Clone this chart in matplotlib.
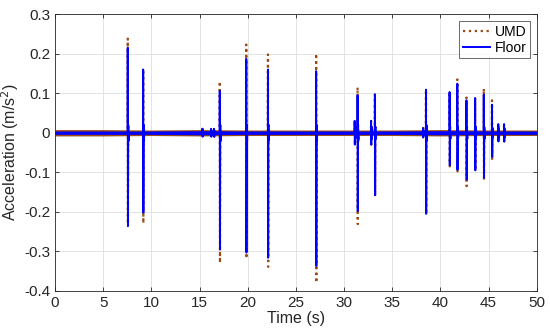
import matplotlib.pyplot as plt
import numpy as np

plt.rcParams["font.family"] = ["Liberation Sans", "DejaVu Sans"]
plt.rcParams["axes.unicode_minus"] = False

# spike events: time (s), positive peak, negative peak
event_t = [7.55, 9.15, 17.1, 19.85, 22.1, 27.1, 31.4, 33.2, 38.5,
           40.95, 41.75, 42.7, 43.6, 44.5, 45.35]
floor_peak = [0.215, 0.160, 0.106, 0.187, 0.160, 0.156, 0.095, 0.097, 0.109,
              0.103, 0.124, 0.082, 0.088, 0.097, 0.071]
floor_trough = [-0.236, -0.202, -0.295, -0.303, -0.316, -0.337, -0.198, -0.158, -0.205,
                -0.082, -0.094, -0.118, -0.095, -0.114, -0.061]
umd_peak = [0.238, 0.160, 0.130, 0.223, 0.198, 0.200, 0.115, 0.097, 0.109,
            0.103, 0.135, 0.089, 0.088, 0.112, 0.082]
umd_trough = [-0.230, -0.229, -0.329, -0.318, -0.339, -0.379, -0.231, -0.160, -0.205,
              -0.085, -0.100, -0.135, -0.095, -0.120, -0.070]
ring = [0.02, 0.02, 0.02, 0.02, 0.02, 0.02, 0.02, 0.015, 0.02,
        0.015, 0.015, 0.015, 0.015, 0.015, 0.012]

# small bumps on the baseline
bump_t = [15.3, 16.2, 16.5, 31.1, 32.8, 38.2, 46.0, 46.6]
bump_amp = [0.010, 0.010, 0.010, 0.030, 0.030, 0.012, 0.022, 0.022]

# baseline noise envelope (half-width) every 5 s
band_t = [0, 5, 10, 15, 20, 25, 30, 35, 40, 45, 50]
umd_band = [0.008, 0.008, 0.007, 0.008, 0.007, 0.007, 0.007, 0.007, 0.008, 0.007, 0.007]
floor_band = [0.004, 0.004, 0.004, 0.005, 0.004, 0.004, 0.004, 0.004, 0.005, 0.004, 0.004]


def build_trace(peaks, troughs):
    ts, vs = [0.0], [0.0]
    events = sorted(
        [(t, p, q, r) for t, p, q, r in zip(event_t, peaks, troughs, ring)]
        + [(t, a, -a, a / 2) for t, a in zip(bump_t, bump_amp)]
    )
    for t, p, q, r in events:
        ts += [t - 0.01, t, t + 0.02, t + 0.05, t + 0.08, t + 0.11]
        vs += [0.0, p, q, r, -r, 0.0]
    ts.append(50.0)
    vs.append(0.0)
    return ts, vs


umd_t, umd_v = build_trace(umd_peak, umd_trough)
floor_t, floor_v = build_trace(floor_peak, floor_trough)

fig, ax = plt.subplots(figsize=(5.5, 3.36), dpi=100)
fig.subplots_adjust(left=0.1, right=0.976, top=0.958, bottom=0.134)

bt = np.array(band_t)
ax.fill_between(bt, -np.array(umd_band), np.array(umd_band), color="#9a4a14", lw=0, zorder=2)
ax.plot(umd_t, umd_v, ls=":", color="#9a4a14", lw=1.6, label="UMD", zorder=3)
ax.fill_between(bt, -np.array(floor_band), np.array(floor_band), color="#0000ff", lw=0, zorder=4)
ax.plot(floor_t, floor_v, color="#0000ff", lw=1.4, label="Floor", zorder=5)

ax.set_xlim(0, 50)
ax.set_ylim(-0.4, 0.3)
ax.set_xticks(np.arange(0, 51, 5))
ax.set_yticks([-0.4, -0.3, -0.2, -0.1, 0, 0.1, 0.2, 0.3])
ax.set_yticklabels(["-0.4", "-0.3", "-0.2", "-0.1", "0", "0.1", "0.2", "0.3"])
ax.grid(True, color="#e3e3e3", lw=0.7)
ax.set_axisbelow(True)
ax.tick_params(direction="in", top=True, right=True, labelsize=11, colors="#262626",
               length=3, width=0.6)
for sp in ax.spines.values():
    sp.set_color("#262626")
    sp.set_linewidth(0.6)

ax.set_xlabel("Time (s)", fontsize=11.5, color="#262626", labelpad=1)
ax.set_ylabel("Acceleration (m/s$^2$)", fontsize=11.5, color="#262626", labelpad=2)

leg = ax.legend(loc="upper right", fontsize=10, frameon=True, fancybox=False,
                edgecolor="#262626", borderpad=0.25, handlelength=2.0,
                handletextpad=0.3, labelspacing=0.15, borderaxespad=0.5)
leg.get_frame().set_linewidth(0.6)

fig.savefig("out.png", dpi=100)
